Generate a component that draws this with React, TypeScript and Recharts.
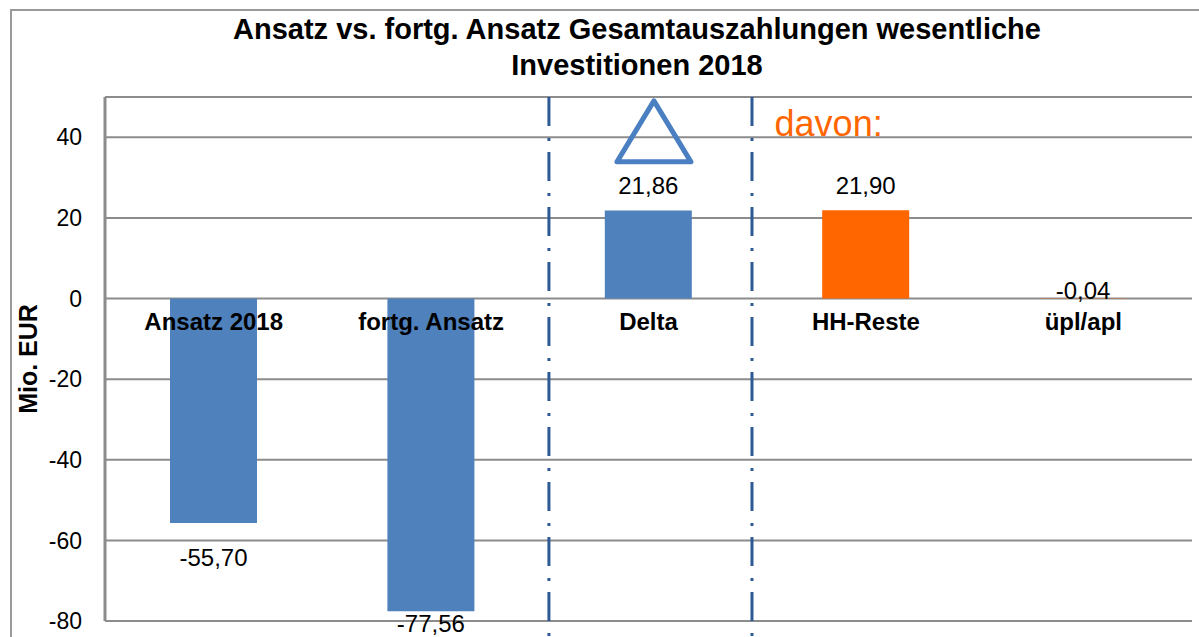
import React from 'react';
import {
  ComposedChart,
  Bar,
  Line,
  XAxis,
  YAxis,
  CartesianGrid,
  Cell,
  LabelList,
  ReferenceLine,
  ReferenceDot,
} from 'recharts';

const categories = ['Ansatz 2018', 'fortg. Ansatz', 'Delta', 'HH-Reste', 'üpl/apl'];
const values = [-55.7, -77.56, 21.86, 21.9, -0.04];
const barColors = ['#4F81BD', '#4F81BD', '#4F81BD', '#FF6600', '#FF6600'];
const yTicks = [-80, -60, -40, -20, 0, 20, 40];

// x axis runs 0..5, one unit per category, bars sit at i + 0.5
const dividers = [2.042, 2.976];

const FONT = '"Liberation Sans", Arial, Helvetica, sans-serif';

// vertical shift of each value label centre from the bar end (px)
const labelShift = [35, 12, -25, -25, -8];

const chartData = categories.map((name, i) => ({ name, pos: i + 0.5, value: values[i], zero: 0 }));

const fmt = (v: number) => v.toFixed(2).replace('.', ',');

const ValueLabel = (props: any) => {
  const { x, y, width, height, value, index } = props;
  const top = Math.min(y, y + height);
  const bottom = Math.max(y, y + height);
  const end = value >= 0 ? top : bottom;
  return (
    <text
      x={x + width / 2}
      y={end + labelShift[index]}
      dy="0.35em"
      textAnchor="middle"
      fontFamily={FONT}
      fontSize={24}
      fill="#000"
    >
      {fmt(value)}
    </text>
  );
};

const CategoryLabel = (props: any) => {
  const { x, y, value } = props;
  return (
    <text x={x} y={y + 23} dy="0.35em" textAnchor="middle" fontFamily={FONT} fontSize={24} fontWeight="bold" fill="#000">
      {value}
    </text>
  );
};

const Triangle = (props: any) => {
  const { cx, cy } = props;
  return (
    <polygon
      points={`${cx},${cy - 30} ${cx + 37},${cy + 31} ${cx - 37},${cy + 31}`}
      fill="none"
      stroke="#4A7FC1"
      strokeWidth={5}
      strokeLinejoin="round"
    />
  );
};

const Davon = (props: any) => {
  const { cx, cy } = props;
  return (
    <text x={cx} y={cy} textAnchor="start" fontFamily={FONT} fontSize={36} fill="#FF6600">
      davon:
    </text>
  );
};

export default function App() {
  return (
    <div style={{ position: 'absolute', left: 0, top: 0, width: 1199, height: 637, overflow: 'hidden', background: '#fff' }}>
      <div
        style={{
          position: 'absolute',
          left: 10,
          top: 9,
          width: 1300,
          height: 700,
          borderLeft: '2px solid #9a9a9a',
          borderTop: '2px solid #9a9a9a',
        }}
      />
      <div
        style={{
          position: 'absolute',
          left: 0,
          top: 11,
          width: 1274,
          textAlign: 'center',
          fontFamily: FONT,
          fontSize: 29,
          fontWeight: 'bold',
          lineHeight: '36px',
          color: '#000',
        }}
      >
        Ansatz vs. fortg. Ansatz Gesamtauszahlungen wesentliche
        <br />
        Investitionen 2018
      </div>
      <div style={{ position: 'absolute', left: 0, top: 0 }}>
        <ComposedChart
          width={1199}
          height={637}
          data={chartData}
          margin={{ top: 97, right: 7, bottom: 16, left: 0 }}
        >
          <CartesianGrid vertical={false} stroke="#8c8c8c" strokeWidth={2} />
          <XAxis dataKey="pos" type="number" domain={[0, 5]} hide allowDataOverflow />
          <YAxis
            domain={[-80, 50]}
            ticks={yTicks}
            width={105}
            axisLine={{ stroke: '#8c8c8c', strokeWidth: 3 }}
            tickLine={false}
            tickSize={6}
            tickMargin={17}
            tick={{ fill: '#000', fontSize: 23, fontFamily: FONT }}
            allowDataOverflow
            label={{
              value: 'Mio. EUR',
              angle: -90,
              position: 'insideLeft',
              offset: 28,
              style: { textAnchor: 'middle', fontFamily: FONT, fontSize: 25, fontWeight: 'bold', fill: '#000' },
            }}
          />
          <Bar dataKey="value" barSize={87} isAnimationActive={false}>
            {chartData.map((d, i) => (
              <Cell key={d.name} fill={barColors[i]} />
            ))}
            <LabelList dataKey="value" content={ValueLabel} />
          </Bar>
          <Line dataKey="zero" stroke="none" dot={false} activeDot={false} isAnimationActive={false}>
            <LabelList dataKey="name" content={CategoryLabel} />
          </Line>
          {dividers.map((d) => (
            <ReferenceLine
              key={d}
              segment={[
                { x: d, y: 50 },
                { x: d, y: -84 },
              ]}
              stroke="#2E5A94"
              strokeWidth={3}
              strokeDasharray="29 12 3 11"
              ifOverflow="visible"
            />
          ))}
          <ReferenceDot x={2.525} y={41.6} r={0} shape={Triangle} ifOverflow="visible" />
          <ReferenceDot x={3.08} y={40.4} r={0} shape={Davon} ifOverflow="visible" />
        </ComposedChart>
      </div>
    </div>
  );
}
